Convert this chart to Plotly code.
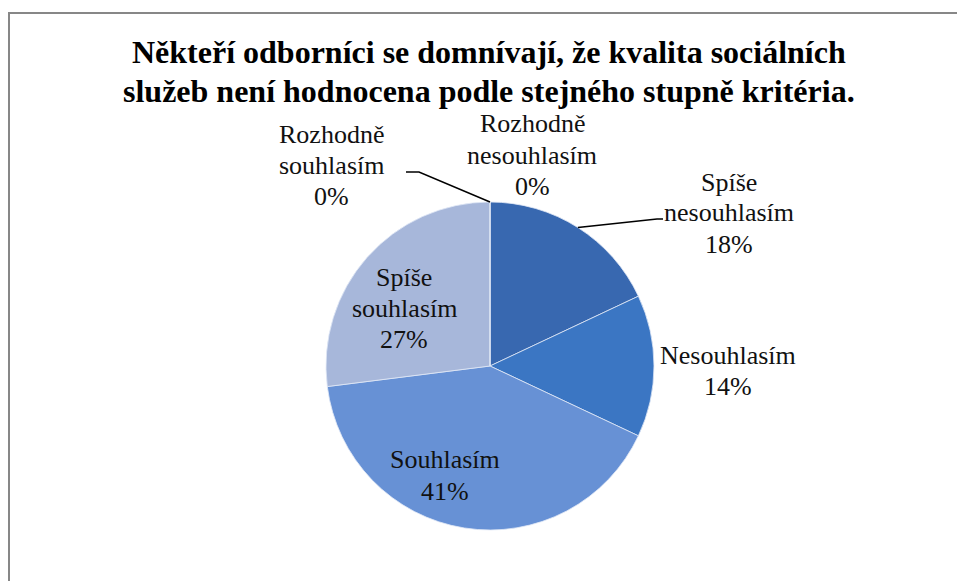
import math
import plotly.graph_objects as go

W, H = 957, 581

categories = ["Rozhodně nesouhlasím", "Spíše nesouhlasím", "Nesouhlasím",
              "Souhlasím", "Spíše souhlasím", "Rozhodně souhlasím"]
values = [0, 18, 14, 41, 27, 0]
colors = ["#2F5F9E", "#3868B0", "#3B76C3", "#6791D5", "#A7B7DA", "#8FA6CF"]

title_lines = ["Někteří odborníci se domnívají, že kvalita sociálních",
               "služeb není hodnocena podle stejného stupně kritéria."]

# layout (pixels)
cx, cy, R = 490, 366, 164
label_pos = {  # centre x, first-line centre y
    "Rozhodně nesouhlasím": (532, 124),
    "Spíše nesouhlasím": (729, 182),
    "Nesouhlasím": (728, 355),
    "Souhlasím": (445, 460),
    "Spíše souhlasím": (404, 277),
    "Rozhodně souhlasím": (331, 134),
}
LINE = 31
FONT = "Liberation Serif"


def px(x):
    return x / W


def py(y):
    return 1 - y / H


fig = go.Figure(go.Pie(
    labels=categories, values=values, sort=False, direction="clockwise",
    rotation=0, textinfo="none", hoverinfo="label+percent",
    marker=dict(colors=colors, line=dict(color="rgba(225,232,246,0.8)", width=1)),
    domain=dict(x=[px(cx - R), px(cx + R)], y=[py(cy + R), py(cy - R)]),
    showlegend=False,
))

annotations = []
for i, line in enumerate(title_lines):
    annotations.append(dict(
        x=px(489), y=py(52 + i * 39), xref="paper", yref="paper",
        text="<b>%s</b>" % line, showarrow=False, xanchor="center", yanchor="middle",
        font=dict(family=FONT, size=32, color="#000000")))

total = sum(values)
for cat, v in zip(categories, values):
    pct = round(100 * v / total)
    lines = cat.split(" ") + ["%d%%" % pct]
    lx, ly = label_pos[cat]
    for j, t in enumerate(lines):
        annotations.append(dict(
            x=px(lx), y=py(ly + j * LINE), xref="paper", yref="paper",
            text=t, showarrow=False, xanchor="center", yanchor="middle",
            font=dict(family=FONT, size=26, color="#111111")))

# leader lines, starting on the pie edge at the slice mid-angle
cum = 0
mid_angle = {}
for cat, v in zip(categories, values):
    mid_angle[cat] = (cum + v / 2) / total * 360
    cum += v


def edge(cat):
    a = math.radians(mid_angle[cat])
    return cx + R * math.sin(a), cy - R * math.cos(a)


shapes = []
ex, ey = edge("Spíše nesouhlasím")
shapes.append(dict(type="path", xref="paper", yref="paper",
                   path="M %f,%f L %f,%f L %f,%f" % (px(ex), py(ey), px(657), py(219), px(663), py(219)),
                   line=dict(color="#000000", width=1.5)))
ex, ey = edge("Rozhodně souhlasím")
shapes.append(dict(type="path", xref="paper", yref="paper",
                   path="M %f,%f L %f,%f L %f,%f" % (px(406), py(172), px(419), py(172), px(ex), py(ey)),
                   line=dict(color="#000000", width=1.5)))
# chart border
shapes.append(dict(type="rect", xref="paper", yref="paper",
                   x0=px(9), x1=px(980), y0=py(600), y1=py(13),
                   line=dict(color="#878787", width=2)))

fig.update_layout(
    width=W, height=H, margin=dict(l=0, r=0, t=0, b=0),
    paper_bgcolor="#FFFFFF", plot_bgcolor="#FFFFFF",
    annotations=annotations, shapes=shapes,
)

fig.write_html("out.html")
